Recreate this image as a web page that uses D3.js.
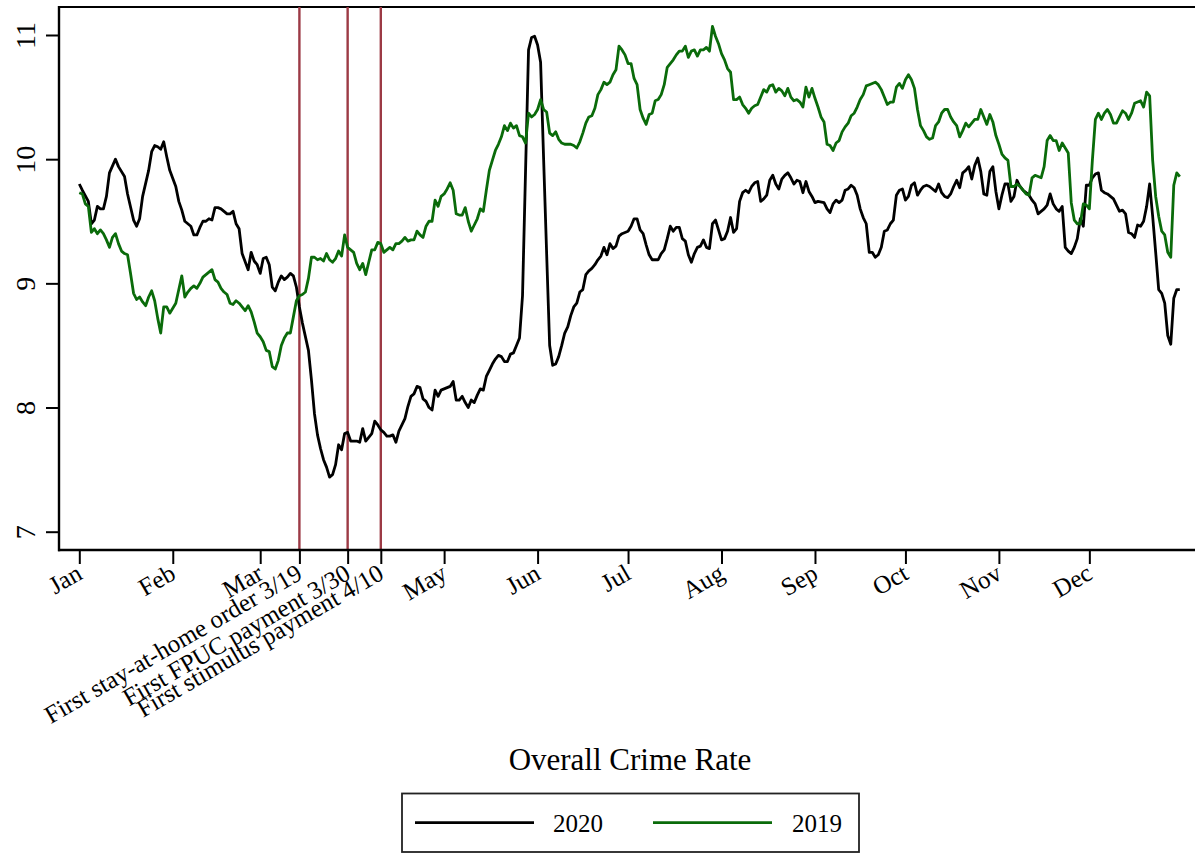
<!DOCTYPE html>
<html>
<head>
<meta charset="utf-8">
<script src="https://cdn.jsdelivr.net/npm/d3@7"></script>
<style>
  html, body { margin: 0; padding: 0; background: #fff; }
  svg { display: block; }
  text { font-family: "Liberation Serif", "Times New Roman", serif; fill: #000; }
</style>
</head>
<body>
<svg id="chart" width="1195" height="854"></svg>
<script>
// ---------------- data ----------------
const monthNames = ["Jan","Feb","Mar","May","Jun","Jul","Aug","Sep","Oct","Nov","Dec"];
const monthDays  = [0, 31, 60, 121, 152, 182, 213, 244, 274, 305, 335];
const eventDays   = [73, 89, 100];
const eventLabels = ["First stay-at-home order 3/19", "First FPUC payment 3/30", "First stimulus payment 4/10"];
const yTicks = [7, 8, 9, 10, 11];
const seriesNames = ["2020", "2019"];
const chartTitle = "Overall Crime Rate";

// [day of year, crime rate]
const rate2020 = [
[0,9.80],[1,9.75],[3,9.66],[4,9.48],[5,9.51],[6,9.62],[7,9.60],[8,9.60],[9,9.70],[10,9.89],[12,10.00],[13,9.94],[15,9.86],[16,9.72],[18,9.51],[19,9.46],[20,9.52],[21,9.70],[23,9.91],[24,10.06],[25,10.11],[26,10.10],[27,10.08],[28,10.14],[29,10.02],[30,9.91],[32,9.78],[33,9.66],[34,9.59],[35,9.50],[37,9.46],[38,9.39],[39,9.39],[40,9.45],[41,9.50],[42,9.50],[43,9.52],[44,9.51],[45,9.61],[46,9.61],[47,9.60],[49,9.56],[50,9.56],[51,9.58],[52,9.48],[53,9.44],[54,9.24],[56,9.11],[57,9.25],[58,9.18],[59,9.15],[60,9.08],[61,9.20],[62,9.21],[63,9.15],[64,8.97],[65,8.94],[66,9.01],[67,9.06],[68,9.03],[69,9.05],[70,9.08],[71,9.06],[72,8.97],[73,8.81],[74,8.68],[76,8.46],[77,8.22],[78,7.95],[79,7.78],[80,7.67],[81,7.58],[82,7.52],[83,7.44],[84,7.46],[85,7.54],[86,7.70],[87,7.66],[88,7.79],[89,7.80],[90,7.73],[92,7.73],[93,7.72],[94,7.83],[95,7.73],[96,7.76],[97,7.79],[98,7.89],[99,7.86],[100,7.82],[101,7.80],[102,7.77],[103,7.77],[104,7.78],[105,7.72],[106,7.81],[108,7.91],[109,8.01],[110,8.09],[111,8.11],[112,8.17],[113,8.16],[114,8.07],[115,8.05],[116,8.00],[117,7.98],[118,8.14],[119,8.09],[120,8.14],[122,8.16],[123,8.17],[124,8.21],[125,8.06],[126,8.06],[127,8.09],[128,8.04],[129,8.00],[130,8.06],[131,8.04],[132,8.10],[133,8.15],[134,8.14],[135,8.25],[136,8.30],[137,8.35],[138,8.39],[139,8.42],[140,8.41],[141,8.37],[142,8.37],[143,8.43],[144,8.44],[145,8.50],[146,8.56],[147,8.90],[148,9.90],[149,10.88],[150,10.98],[151,10.99],[152,10.92],[153,10.78],[154,10.00],[155,9.24],[156,8.50],[157,8.34],[158,8.35],[159,8.41],[160,8.50],[161,8.60],[162,8.65],[163,8.74],[164,8.81],[165,8.84],[166,8.93],[167,8.95],[168,9.07],[169,9.10],[170,9.12],[171,9.15],[172,9.19],[173,9.22],[174,9.29],[175,9.23],[176,9.32],[177,9.28],[178,9.30],[179,9.38],[180,9.40],[181,9.41],[182,9.42],[183,9.46],[184,9.52],[185,9.52],[186,9.43],[187,9.40],[188,9.31],[189,9.23],[190,9.19],[192,9.19],[193,9.24],[194,9.27],[195,9.36],[196,9.46],[197,9.42],[198,9.45],[199,9.45],[200,9.36],[201,9.34],[202,9.23],[203,9.17],[204,9.24],[205,9.29],[206,9.30],[207,9.35],[208,9.29],[209,9.28],[210,9.48],[211,9.51],[212,9.43],[213,9.35],[214,9.36],[215,9.42],[216,9.53],[217,9.41],[218,9.44],[219,9.66],[220,9.73],[221,9.75],[222,9.73],[223,9.78],[224,9.81],[225,9.82],[226,9.66],[227,9.68],[228,9.71],[229,9.83],[230,9.87],[231,9.80],[232,9.76],[233,9.84],[234,9.87],[235,9.89],[236,9.85],[237,9.80],[238,9.83],[239,9.82],[240,9.73],[241,9.82],[242,9.74],[243,9.70],[244,9.65],[245,9.66],[247,9.65],[248,9.60],[249,9.57],[250,9.64],[251,9.67],[252,9.65],[253,9.67],[254,9.75],[255,9.76],[256,9.79],[257,9.77],[258,9.71],[259,9.60],[260,9.53],[261,9.48],[262,9.25],[263,9.25],[264,9.21],[265,9.23],[266,9.29],[267,9.42],[268,9.43],[269,9.48],[270,9.51],[271,9.71],[272,9.75],[273,9.76],[274,9.67],[275,9.70],[276,9.79],[277,9.81],[278,9.71],[279,9.75],[280,9.78],[281,9.79],[282,9.78],[283,9.76],[284,9.74],[285,9.80],[286,9.73],[287,9.70],[288,9.69],[289,9.72],[290,9.78],[291,9.83],[292,9.77],[293,9.89],[294,9.91],[295,9.94],[296,9.84],[297,9.95],[298,10.01],[299,9.90],[300,9.72],[301,9.71],[302,9.90],[303,9.94],[304,9.74],[305,9.60],[306,9.71],[307,9.80],[308,9.80],[309,9.66],[310,9.70],[311,9.83],[312,9.78],[313,9.75],[314,9.73],[315,9.71],[316,9.67],[317,9.64],[318,9.56],[319,9.58],[320,9.60],[321,9.63],[322,9.72],[323,9.64],[324,9.60],[325,9.58],[326,9.62],[327,9.29],[328,9.26],[329,9.24],[330,9.29],[331,9.36],[332,9.52],[333,9.46],[334,9.79],[335,9.79],[336,9.85],[337,9.88],[338,9.89],[339,9.75],[340,9.73],[341,9.72],[342,9.70],[343,9.68],[344,9.63],[345,9.58],[346,9.59],[347,9.56],[348,9.41],[349,9.40],[350,9.37],[351,9.47],[352,9.46],[353,9.50],[354,9.62],[355,9.80],[356,9.54],[357,9.25],[358,8.95],[359,8.92],[360,8.84],[361,8.58],[362,8.51],[363,8.88],[364,8.95],[365,8.95]
];

const rate2019 = [
[0,9.73],[1,9.72],[2,9.64],[3,9.62],[4,9.41],[5,9.44],[6,9.40],[7,9.43],[8,9.40],[9,9.35],[10,9.29],[11,9.37],[12,9.40],[13,9.32],[14,9.26],[15,9.24],[16,9.23],[17,9.08],[18,8.92],[19,8.87],[20,8.89],[21,8.85],[22,8.82],[23,8.89],[24,8.94],[25,8.86],[26,8.72],[27,8.60],[28,8.81],[29,8.81],[30,8.76],[31,8.80],[32,8.84],[33,8.95],[34,9.06],[35,8.89],[36,8.93],[37,8.96],[38,8.98],[39,8.96],[40,9.00],[41,9.05],[42,9.07],[43,9.09],[44,9.11],[45,9.03],[46,9.01],[47,8.96],[48,8.93],[49,8.91],[50,8.84],[51,8.83],[52,8.86],[53,8.84],[54,8.81],[55,8.78],[56,8.82],[57,8.77],[58,8.69],[59,8.60],[60,8.57],[61,8.53],[62,8.46],[63,8.45],[64,8.33],[65,8.31],[66,8.38],[67,8.50],[68,8.56],[69,8.60],[70,8.60],[71,8.73],[72,8.86],[73,8.90],[74,8.91],[75,8.93],[76,9.04],[77,9.21],[78,9.21],[79,9.19],[80,9.20],[81,9.18],[82,9.24],[83,9.19],[84,9.17],[85,9.20],[86,9.26],[87,9.22],[88,9.39],[89,9.29],[90,9.27],[91,9.25],[92,9.16],[93,9.11],[94,9.16],[95,9.07],[96,9.17],[97,9.27],[98,9.27],[99,9.33],[100,9.32],[101,9.25],[102,9.27],[103,9.29],[104,9.27],[105,9.32],[106,9.32],[107,9.34],[108,9.37],[109,9.34],[110,9.35],[111,9.35],[112,9.42],[113,9.39],[114,9.37],[115,9.46],[116,9.50],[117,9.50],[118,9.67],[119,9.62],[120,9.70],[121,9.72],[122,9.76],[123,9.81],[124,9.75],[125,9.56],[126,9.55],[127,9.55],[128,9.61],[129,9.50],[130,9.42],[131,9.47],[132,9.52],[133,9.60],[134,9.58],[135,9.75],[136,9.91],[137,9.99],[138,10.07],[139,10.12],[140,10.18],[141,10.27],[142,10.23],[143,10.29],[144,10.25],[145,10.27],[146,10.19],[147,10.18],[148,10.13],[149,10.37],[150,10.34],[151,10.36],[152,10.40],[153,10.48],[154,10.40],[155,10.38],[156,10.21],[157,10.19],[158,10.22],[159,10.16],[160,10.13],[161,10.12],[162,10.12],[163,10.12],[164,10.11],[165,10.09],[166,10.14],[167,10.21],[168,10.29],[169,10.34],[170,10.35],[171,10.41],[172,10.52],[173,10.56],[174,10.62],[175,10.60],[176,10.62],[177,10.68],[178,10.72],[179,10.91],[180,10.88],[181,10.84],[182,10.77],[183,10.77],[184,10.65],[185,10.60],[186,10.40],[187,10.33],[188,10.28],[189,10.36],[190,10.37],[191,10.47],[192,10.48],[193,10.52],[194,10.60],[195,10.74],[196,10.77],[197,10.80],[198,10.84],[199,10.87],[200,10.87],[201,10.91],[202,10.82],[203,10.87],[204,10.88],[205,10.83],[206,10.88],[207,10.88],[208,10.90],[209,10.87],[210,11.07],[211,10.99],[212,10.93],[213,10.85],[214,10.80],[215,10.73],[216,10.70],[217,10.48],[218,10.48],[219,10.50],[220,10.44],[221,10.41],[222,10.37],[223,10.41],[224,10.43],[225,10.44],[226,10.50],[227,10.56],[228,10.54],[229,10.59],[230,10.60],[231,10.54],[232,10.57],[233,10.55],[234,10.51],[235,10.57],[236,10.50],[237,10.47],[238,10.48],[239,10.46],[240,10.42],[241,10.58],[242,10.50],[243,10.57],[244,10.49],[245,10.42],[246,10.34],[247,10.30],[248,10.12],[249,10.11],[250,10.07],[251,10.13],[252,10.15],[253,10.22],[254,10.26],[255,10.29],[256,10.35],[257,10.37],[258,10.42],[259,10.48],[260,10.52],[261,10.59],[262,10.60],[263,10.61],[264,10.62],[265,10.60],[266,10.56],[267,10.50],[268,10.44],[269,10.46],[270,10.46],[271,10.58],[272,10.61],[273,10.57],[274,10.64],[275,10.68],[276,10.64],[277,10.57],[278,10.40],[279,10.27],[280,10.23],[281,10.18],[282,10.16],[283,10.17],[284,10.27],[285,10.30],[286,10.37],[287,10.40],[288,10.40],[289,10.34],[290,10.30],[291,10.27],[292,10.18],[293,10.23],[294,10.29],[295,10.26],[296,10.29],[297,10.32],[298,10.32],[299,10.40],[300,10.34],[301,10.28],[302,10.36],[303,10.30],[304,10.19],[305,10.12],[306,10.04],[307,10.01],[308,9.99],[309,9.78],[310,9.78],[311,9.80],[312,9.78],[313,9.75],[314,9.72],[315,9.71],[316,9.85],[317,9.87],[318,9.86],[319,9.85],[320,9.94],[321,10.15],[322,10.19],[323,10.15],[324,10.15],[325,10.07],[326,10.13],[327,10.09],[328,10.05],[329,9.65],[330,9.51],[331,9.48],[332,9.48],[333,9.64],[334,9.63],[335,9.60],[336,9.99],[337,10.32],[338,10.37],[339,10.32],[340,10.37],[341,10.40],[342,10.36],[343,10.29],[344,10.29],[345,10.34],[346,10.39],[347,10.37],[348,10.32],[349,10.37],[350,10.45],[351,10.46],[352,10.47],[353,10.42],[354,10.54],[355,10.51],[356,9.99],[357,9.70],[358,9.54],[359,9.42],[360,9.39],[361,9.25],[362,9.21],[363,9.79],[364,9.89],[365,9.86]
];

// ---------------- layout ----------------
const svg = d3.select("#chart");
const axisLeftX = 59, axisBottomY = 550, plotTop = 7, plotRight = 1195;
const x = d3.scaleLinear().domain([0, 365]).range([79.3, 1179.8]);
const y = d3.scaleLinear().domain([7, 11]).range([531.7, 35]);
const colors = { "2020": "#000000", "2019": "#0a6b0a" };
const eventColor = "#9c3a45";
const fontSize = 25;
const fontStack = '"Liberation Serif", "Times New Roman", serif';

// plot frame (top edge)
svg.append("line")
  .attr("x1", axisLeftX).attr("x2", plotRight)
  .attr("y1", plotTop).attr("y2", plotTop)
  .attr("stroke", "#000").attr("stroke-width", 2);

// event lines
svg.append("g").selectAll("line").data(eventDays).join("line")
  .attr("x1", d => x(d)).attr("x2", d => x(d))
  .attr("y1", plotTop).attr("y2", axisBottomY)
  .attr("stroke", eventColor).attr("stroke-width", 2.4);

// series
const line = d3.line().x(d => x(d[0])).y(d => y(d[1]));
[["2020", rate2020], ["2019", rate2019]].forEach(([name, data]) => {
  svg.append("path").datum(data)
    .attr("fill", "none")
    .attr("stroke", colors[name])
    .attr("stroke-width", 2.8)
    .attr("stroke-linejoin", "round")
    .attr("d", line);
});

// x axis
const xTickValues = monthDays.concat(eventDays);
const xTickText = new Map();
monthDays.forEach((d, i) => xTickText.set(d, monthNames[i]));
eventDays.forEach((d, i) => xTickText.set(d, eventLabels[i]));

const gx = svg.append("g").attr("transform", `translate(0,${axisBottomY})`)
  .call(d3.axisBottom(x).tickValues(xTickValues).tickSize(14).tickFormat(d => xTickText.get(d)));
gx.select(".domain").remove();
gx.selectAll(".tick line").attr("stroke", "#000").attr("stroke-width", 2);
gx.selectAll(".tick text")
  .attr("x", 0).attr("y", 0).attr("dy", 0)
  .attr("text-anchor", "end")
  .attr("transform", "translate(4,28) rotate(-30)")
  .style("font-family", fontStack)
  .style("font-size", fontSize + "px")
  .attr("fill", "#000");
svg.append("line")
  .attr("x1", axisLeftX - 1).attr("x2", plotRight)
  .attr("y1", axisBottomY).attr("y2", axisBottomY)
  .attr("stroke", "#000").attr("stroke-width", 2.4);

// y axis
const gy = svg.append("g").attr("transform", `translate(${axisLeftX},0)`)
  .call(d3.axisLeft(y).tickValues(yTicks).tickSize(13).tickFormat(d3.format("d")));
gy.select(".domain").remove();
gy.selectAll(".tick line").attr("stroke", "#000").attr("stroke-width", 2);
gy.selectAll(".tick text")
  .attr("x", 0).attr("y", 0).attr("dy", 0)
  .attr("text-anchor", "middle")
  .attr("transform", "translate(-24,0) rotate(-90)")
  .style("font-family", fontStack)
  .style("font-size", "28px")
  .attr("fill", "#000");
svg.append("line")
  .attr("x1", axisLeftX).attr("x2", axisLeftX)
  .attr("y1", plotTop - 1).attr("y2", axisBottomY + 1.2)
  .attr("stroke", "#000").attr("stroke-width", 2.4);

// title (below axis)
svg.append("text")
  .attr("x", 630).attr("y", 770)
  .attr("text-anchor", "middle")
  .style("font-size", "31px")
  .text(chartTitle);

// legend
const lg = svg.append("g");
lg.append("rect")
  .attr("x", 402).attr("y", 793.5).attr("width", 457).attr("height", 58.5)
  .attr("fill", "#fff").attr("stroke", "#222").attr("stroke-width", 1.8);
const legendItems = [
  { name: seriesNames[0], x1: 415, x2: 534, tx: 553 },
  { name: seriesNames[1], x1: 653, x2: 772, tx: 792 }
];
legendItems.forEach(it => {
  lg.append("line")
    .attr("x1", it.x1).attr("x2", it.x2).attr("y1", 822.7).attr("y2", 822.7)
    .attr("stroke", colors[it.name]).attr("stroke-width", 2.8);
  lg.append("text")
    .attr("x", it.tx).attr("y", 831.5)
    .style("font-size", fontSize + "px")
    .text(it.name);
});
</script>
</body>
</html>
